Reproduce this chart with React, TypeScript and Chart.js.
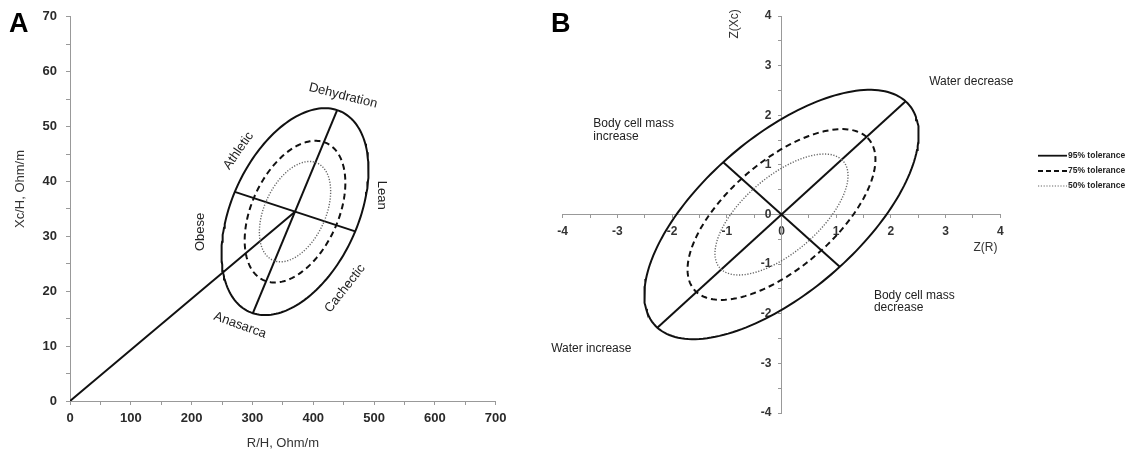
import React, { useEffect, useRef } from 'react';
import { Chart, registerables } from 'chart.js';

Chart.register(...registerables);

const FONT = '"Liberation Sans", Arial, Helvetica, sans-serif';

// ---------- shared tolerance levels ----------
const toleranceLabels = ['95% tolerance', '75% tolerance', '50% tolerance'];
const toleranceScale = [1, 0.685, 0.485];

// ---------- Panel A (R/H vs Xc/H) ----------
const aXMin = 0;
const aXMax = 700;
const aYMin = 0;
const aYMax = 70;
const aEllipseCenter = [370, 34.5];
const aEllipseMajor = [69.3, 18.5];
const aEllipseMinor = [99, -3.6];
const aVectorLine = [[0, 0], [370, 34.5]];
const aMajorLine = [[300.7, 16.0], [439.3, 53.0]];
const aMinorLine = [[271, 38.1], [469, 30.9]];
const aLabelText = ['Dehydration', 'Athletic', 'Obese', 'Lean', 'Cachectic', 'Anasarca'];
const aLabelX = [449, 277, 213.8, 512.6, 452.2, 279.6];
const aLabelY = [55.6, 45.6, 30.8, 37.5, 20.5, 13.8];
const aLabelAngle = [14, -55, -90, 90, -52, 20];

// ---------- Panel B (Z(R) vs Z(Xc)) ----------
const bMin = -4;
const bMax = 4;
const bEllipseCenter = [0, 0];
const bEllipseMajor = [2.27, 2.28];
const bEllipseMinor = [-1.065, 1.055];
const bMajorLine = [[-2.27, -2.28], [2.27, 2.28]];
const bMinorLine = [[-1.065, 1.055], [1.065, -1.055]];
const bLabelLines = [['Water decrease'], ['Body cell mass', 'increase'], ['Body cell mass', 'decrease'], ['Water increase']];
const bLabelX = [2.7, -3.44, 1.69, -4.21];
const bLabelY = [2.68, 1.82, -1.63, -2.71];

function ellipsePoints(c: number[], u: number[], v: number[], s: number, n = 180) {
  const pts: { x: number; y: number }[] = [];
  for (let i = 0; i <= n; i++) {
    const t = (2 * Math.PI * i) / n;
    pts.push({
      x: c[0] + s * (u[0] * Math.cos(t) + v[0] * Math.sin(t)),
      y: c[1] + s * (u[1] * Math.cos(t) + v[1] * Math.sin(t)),
    });
  }
  return pts;
}

const segment = (p: number[][]) => p.map((q) => ({ x: q[0], y: q[1] }));

const styleFor = [
  { borderColor: '#111', borderWidth: 2, borderDash: [] as number[] },
  { borderColor: '#111', borderWidth: 2, borderDash: [6, 4] },
  { borderColor: '#666', borderWidth: 1.4, borderDash: [1.2, 1.6] },
];

function lineDataset(label: string, data: any[], style: any) {
  return {
    label,
    data,
    showLine: true,
    fill: false,
    pointRadius: 0,
    pointHoverRadius: 0,
    tension: 0,
    ...style,
  };
}

export default function App() {
  const refA = useRef<HTMLCanvasElement>(null);
  const refB = useRef<HTMLCanvasElement>(null);

  useEffect(() => {
    // ---------- Chart A ----------
    const aDatasets: any[] = toleranceLabels.map((lab, i) =>
      lineDataset(lab, ellipsePoints(aEllipseCenter, aEllipseMajor, aEllipseMinor, toleranceScale[i]), styleFor[i])
    );
    aDatasets.push(lineDataset('vector', segment(aVectorLine), styleFor[0]));
    aDatasets.push(lineDataset('major axis', segment(aMajorLine), styleFor[0]));
    aDatasets.push(lineDataset('minor axis', segment(aMinorLine), styleFor[0]));

    const aTextPlugin = {
      id: 'aTexts',
      afterDraw(chart: any) {
        const ctx = chart.ctx;
        const sx = chart.scales.x;
        const sy = chart.scales.y;
        ctx.save();
        ctx.fillStyle = '#222';
        ctx.textAlign = 'center';
        ctx.textBaseline = 'middle';
        ctx.font = `13px ${FONT}`;
        aLabelText.forEach((t, i) => {
          ctx.save();
          ctx.translate(sx.getPixelForValue(aLabelX[i]), sy.getPixelForValue(aLabelY[i]));
          ctx.rotate((aLabelAngle[i] * Math.PI) / 180);
          ctx.fillText(t, 0, 0);
          ctx.restore();
        });
        // y title
        ctx.save();
        ctx.fillStyle = '#333';
        ctx.translate(20, 189);
        ctx.rotate(-Math.PI / 2);
        ctx.fillText('Xc/H, Ohm/m', 0, 0);
        ctx.restore();
        // panel letter
        ctx.fillStyle = '#000';
        ctx.font = `bold 27px ${FONT}`;
        ctx.textAlign = 'left';
        ctx.textBaseline = 'alphabetic';
        ctx.fillText('A', 9, 32);
        ctx.restore();
      },
    };

    const chartA = new Chart(refA.current as HTMLCanvasElement, {
      type: 'scatter',
      data: { datasets: aDatasets },
      options: {
        animation: false,
        responsive: false,
        maintainAspectRatio: false,
        layout: { padding: { left: 0, top: 16, right: 24.3, bottom: 0 } },
        plugins: { legend: { display: false }, tooltip: { enabled: false } },
        scales: {
          x: {
            type: 'linear',
            min: aXMin,
            max: aXMax,
            afterFit: (s: any) => {
              s.height = 52;
            },
            ticks: {
              stepSize: 50,
              autoSkip: false,
              maxRotation: 0,
              color: '#2a2a2a',
              padding: 6,
              font: { family: FONT, size: 13, weight: 'bold' },
              callback: (v: any) => (Number(v) % 100 === 0 ? String(v) : ''),
            },
            grid: { drawOnChartArea: false, drawTicks: true, tickLength: 4, color: '#999' },
            border: { color: '#999' },
            title: {
              display: true,
              text: 'R/H, Ohm/m',
              color: '#333',
              font: { family: FONT, size: 13 },
              padding: { top: 0, bottom: 2 },
            },
          },
          y: {
            type: 'linear',
            min: aYMin,
            max: aYMax,
            afterFit: (s: any) => {
              s.width = 70;
            },
            ticks: {
              stepSize: 5,
              autoSkip: false,
              color: '#2a2a2a',
              padding: 9,
              font: { family: FONT, size: 13, weight: 'bold' },
              callback: (v: any) => (Number(v) % 10 === 0 ? String(v) : ''),
            },
            grid: { drawOnChartArea: false, drawTicks: true, tickLength: 4, color: '#999' },
            border: { color: '#999' },
          },
        },
      } as any,
      plugins: [aTextPlugin],
    });

    // ---------- Chart B ----------
    const bDatasets: any[] = toleranceLabels.map((lab, i) =>
      lineDataset(lab, ellipsePoints(bEllipseCenter, bEllipseMajor, bEllipseMinor, toleranceScale[i]), styleFor[i])
    );
    bDatasets.push(lineDataset('major axis', segment(bMajorLine), styleFor[0]));
    bDatasets.push(lineDataset('minor axis', segment(bMinorLine), styleFor[0]));

    const bTextPlugin = {
      id: 'bTexts',
      afterDraw(chart: any) {
        const ctx = chart.ctx;
        const sx = chart.scales.x;
        const sy = chart.scales.y;
        ctx.save();
        ctx.fillStyle = '#222';
        ctx.font = `12px ${FONT}`;
        ctx.textAlign = 'left';
        ctx.textBaseline = 'middle';
        bLabelLines.forEach((lines, i) => {
          const px = sx.getPixelForValue(bLabelX[i]);
          const py = sy.getPixelForValue(bLabelY[i]);
          lines.forEach((ln, j) => ctx.fillText(ln, px, py + j * 12.7));
        });
        // axis titles
        ctx.fillStyle = '#333';
        ctx.textAlign = 'center';
        ctx.fillText('Z(R)', sx.getPixelForValue(3.73), sy.getPixelForValue(-0.66));
        ctx.save();
        ctx.translate(sx.getPixelForValue(-0.85), sy.getPixelForValue(3.84));
        ctx.rotate(-Math.PI / 2);
        ctx.fillText('Z(Xc)', 0, 0);
        ctx.restore();
        // legend
        const lx0 = 518;
        const lx1 = 547;
        const ly = [155.7, 171, 186];
        toleranceLabels.forEach((lab, i) => {
          const st = styleFor[i];
          ctx.save();
          ctx.strokeStyle = st.borderColor;
          ctx.lineWidth = i === 2 ? 1.2 : 1.8;
          ctx.setLineDash(i === 1 ? [5, 3] : st.borderDash);
          ctx.beginPath();
          ctx.moveTo(lx0, ly[i]);
          ctx.lineTo(lx1, ly[i]);
          ctx.stroke();
          ctx.restore();
          ctx.fillStyle = '#222';
          ctx.font = `bold 8.5px ${FONT}`;
          ctx.textAlign = 'left';
          ctx.fillText(lab, lx1 + 1, ly[i]);
        });
        // panel letter
        ctx.fillStyle = '#000';
        ctx.font = `bold 27px ${FONT}`;
        ctx.textAlign = 'left';
        ctx.textBaseline = 'alphabetic';
        ctx.fillText('B', 31, 32);
        ctx.restore();
      },
    };

    const bAxis = (extra: any) => ({
      type: 'linear',
      min: bMin,
      max: bMax,
      ticks: {
        stepSize: 0.5,
        autoSkip: false,
        maxRotation: 0,
        color: '#333',
        font: { family: FONT, size: 12, weight: 'bold' },
        ...extra.ticks,
      },
      grid: { drawOnChartArea: false, drawTicks: true, tickLength: 3, color: '#999' },
      border: { color: '#999' },
      position: extra.position,
    });

    const chartB = new Chart(refB.current as HTMLCanvasElement, {
      type: 'scatter',
      data: { datasets: bDatasets },
      options: {
        animation: false,
        responsive: false,
        maintainAspectRatio: false,
        layout: { padding: { left: 42.7, top: 16, right: 132.7, bottom: 40 } },
        plugins: { legend: { display: false }, tooltip: { enabled: false } },
        scales: {
          x: bAxis({
            position: { y: 0 },
            ticks: {
              padding: 7,
              callback: (v: any) => (Number.isInteger(Number(v)) ? String(v) : ''),
            },
          }),
          y: bAxis({
            position: { x: 0 },
            ticks: {
              // trailing spaces keep the right-aligned labels clear of the centred axis
              callback: (v: any) => (Number.isInteger(Number(v)) ? String(v) + '   ' : ''),
            },
          }),
        },
      } as any,
      plugins: [bTextPlugin],
    });

    return () => {
      chartA.destroy();
      chartB.destroy();
    };
  }, []);

  return (
    <div style={{ position: 'fixed', left: 0, top: 0, width: 1133, height: 453, background: '#fff' }}>
      <canvas ref={refA} width={520} height={453} style={{ position: 'absolute', left: 0, top: 0, display: 'block' }} />
      <canvas ref={refB} width={613} height={453} style={{ position: 'absolute', left: 520, top: 0, display: 'block' }} />
    </div>
  );
}
